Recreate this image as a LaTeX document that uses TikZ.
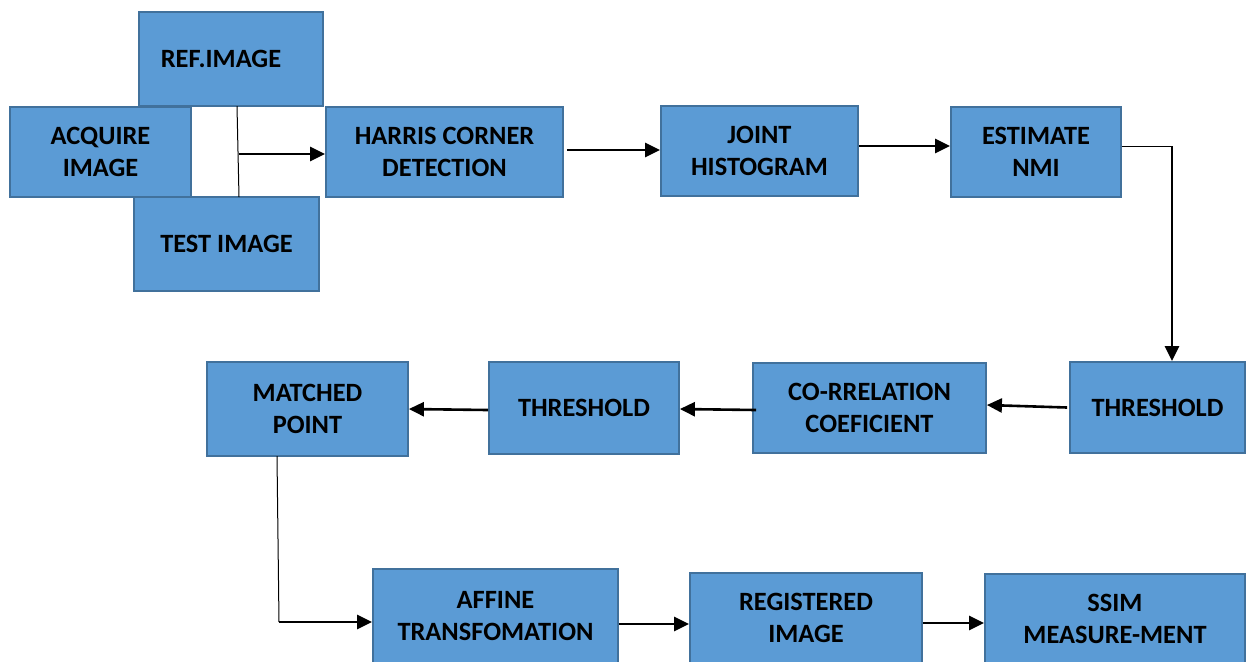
\documentclass[tikz,border=0pt]{standalone}
\usepackage{fontspec}
\setmainfont{Carlito}
\usetikzlibrary{arrows.meta,calc}
\definecolor{boxfill}{HTML}{5B9BD5}
\definecolor{boxline}{HTML}{41719C}
\begin{document}
\begin{tikzpicture}[x=0.5pt,y=-0.5pt,
  box/.style={rectangle,draw=boxline,fill=boxfill,line width=0.9pt,inner sep=0pt,
    align=center,font=\fontsize{13.2}{16}\selectfont\bfseries},
  arr/.style={line width=1.3pt,-{Triangle[length=7.5pt,width=7pt]}},
  thin/.style={line width=0.5pt}]
\useasboundingbox (0,0) rectangle (1248,661);
\node[box,minimum width=92pt,minimum height=47pt] (ref) at (231,59) {\hspace*{-10pt}REF.IMAGE};
\node[box,minimum width=90.5pt,minimum height=45pt] (acq) at (100.5,152) {ACQUIRE\\IMAGE};
\node[box,minimum width=92.5pt,minimum height=47pt] (test) at (226.5,244) {TEST IMAGE};
\node[box,minimum width=118.5pt,minimum height=45pt] (harris) at (444.5,152) {HARRIS CORNER\\DETECTION};
\node[box,minimum width=98.5pt,minimum height=45pt] (joint) at (759.5,151) {JOINT\\HISTOGRAM};
\node[box,minimum width=85pt,minimum height=45pt] (est) at (1036,152) {ESTIMATE\\NMI};
\node[box,minimum width=87.5pt,minimum height=45.5pt] (thr1) at (1157.5,407.5) {THRESHOLD};
\node[box,minimum width=116.5pt,minimum height=45pt] (corr) at (869.5,408) {CO-RRELATION\\COEFICIENT};
\node[box,minimum width=95pt,minimum height=46pt] (thr2) at (584,408) {THRESHOLD};
\node[box,minimum width=100.5pt,minimum height=47pt] (match) at (307.5,409) {MATCHED\\POINT};
\node[box,minimum width=122.5pt,minimum height=47pt] (aff) at (495.5,616) {AFFINE\\TRANSFOMATION};
\node[box,minimum width=116pt,minimum height=45pt] (reg) at (806,618) {REGISTERED\\IMAGE};
\node[box,minimum width=130pt,minimum height=45pt] (ssim) at (1115,619) {SSIM\\MEASURE-MENT};
% junction between reference and test images
\coordinate (j1) at (237,106);
\coordinate (j2) at (239,197);
\coordinate (jm) at (239,154);
\draw[thin] (j1) -- (j2);
\draw[arr] (jm) -- (jm -| harris.west);
\draw[arr] ($(harris.east)+(3,-2)$) -- ($(joint.west)+(0,-1)$);
\draw[arr] ($(joint.east)+(0,-5)$) -- ($(est.west)+(0,-6)$);
\coordinate (c1) at (1172,146);
\draw[thin] ($(est.east)+(0,-6)$) -- (c1);
\draw[arr] (c1) -- (c1 |- thr1.north);
\draw[arr] ($(thr1.west)+(-2,0)$) -- ($(corr.east)+(0,-3)$);
\draw[arr] ($(corr.west)+(4,2)$) -- ($(thr2.east)+(0,1)$);
\draw[arr] ($(thr2.west)+(0,2)$) -- ($(match.east)+(0,0)$);
\coordinate (c2) at (279,622);
\draw[thin] (277,456) coordinate (ms) -- (c2);
\draw[arr] (c2) -- (c2 -| aff.west);
\draw[arr] ($(aff.east)+(0,8)$) -- ($(reg.west)+(0,6)$);
\draw[arr] ($(reg.east)+(0,5)$) -- ($(ssim.west)+(0,4)$);
\end{tikzpicture}
\end{document}
